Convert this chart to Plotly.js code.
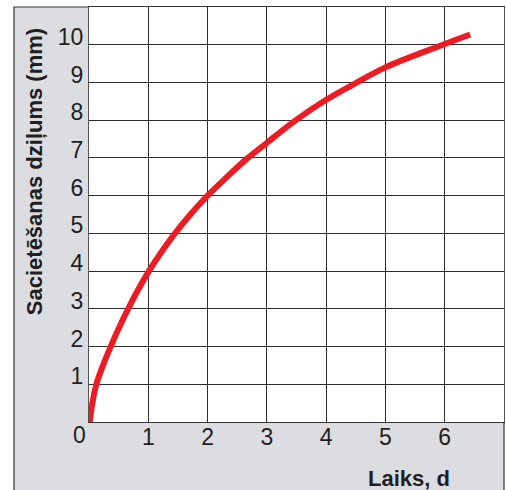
<!DOCTYPE html>
<html>
<head>
<meta charset="utf-8">
<script src="https://cdn.plot.ly/plotly-3.0.1.min.js"></script>
<style>
  html, body { margin: 0; padding: 0; background: #ffffff; }
  #chart { width: 506px; height: 490px; }
</style>
</head>
<body>
<div id="chart"></div>
<script>
// Data
const timeDays = [0.012, 0.057, 0.125, 0.236, 0.366, 0.506, 0.66, 0.826, 1.01, 1.22, 1.45, 1.71, 2.0, 2.33, 2.68, 3.0, 3.49, 4.0, 4.52, 5.0, 5.97, 6.43];
const depthMm  = [0, 0.5, 1, 1.5, 2, 2.5, 3, 3.5, 4, 4.5, 5, 5.5, 6, 6.5, 7, 7.4, 8, 8.54, 9, 9.4, 10, 10.27];

const xTickVals = [1, 2, 3, 4, 5, 6];
const yTickVals = [1, 2, 3, 4, 5, 6, 7, 8, 9, 10];
const xRange = [0, 7];
const yRange = [0, 11];

const xTitle = 'Laiks, d';
const yTitle = 'Sacietēšanas dziļums (mm)';
const originLabel = '0';

const FONT = '"Liberation Sans", Arial, Helvetica, sans-serif';
const PANEL = '#dcdde0';
const INK = '#231f20';

const trace = {
  x: timeDays,
  y: depthMm,
  type: 'scatter',
  mode: 'lines',
  line: { color: '#ed1c24', width: 6, shape: 'spline', smoothing: 1 },
  hoverinfo: 'skip',
  cliponaxis: false
};

const panelLeft = -0.1807;   // left edge of grey panel, paper units
const layout = {
  width: 506,
  height: 490,
  margin: { l: 89, r: 2, t: 7, b: 68, pad: 0 },
  paper_bgcolor: '#ffffff',
  plot_bgcolor: 'rgba(0,0,0,0)',
  showlegend: false,
  font: { family: FONT, color: INK, size: 23 },
  xaxis: {
    range: xRange,
    tickmode: 'array',
    tickvals: xTickVals,
    ticktext: xTickVals.map(String),
    ticks: '',
    ticklabelstandoff: -6,
    showgrid: true,
    gridcolor: '#2e2e2e',
    gridwidth: 1,
    zeroline: false,
    showline: true,
    linecolor: '#333333',
    linewidth: 1,
    mirror: true,
    tickfont: { family: FONT, size: 23, color: INK },
    fixedrange: true
  },
  yaxis: {
    range: yRange,
    tickmode: 'array',
    tickvals: yTickVals,
    ticktext: yTickVals.map(String),
    ticks: '',
    ticklabelshift: -8,
    showgrid: true,
    gridcolor: '#2e2e2e',
    gridwidth: 1,
    zeroline: false,
    showline: true,
    linecolor: '#555555',
    linewidth: 1,
    mirror: true,
    tickfont: { family: FONT, size: 23, color: INK },
    fixedrange: true
  },
  shapes: [
    {
      type: 'rect', xref: 'paper', yref: 'paper', layer: 'below',
      x0: panelLeft, x1: 1.0, y0: -0.3, y1: 1.0,
      fillcolor: PANEL,
      line: { color: '#333333', width: 1.2 }
    },
    {
      type: 'rect', xref: 'x', yref: 'y', layer: 'below',
      x0: xRange[0], x1: xRange[1], y0: yRange[0], y1: yRange[1],
      fillcolor: '#ffffff',
      line: { width: 0 }
    }
  ],
  annotations: [
    {
      text: '<b>' + xTitle + '</b>',
      xref: 'paper', yref: 'paper',
      x: 0.771, y: -0.135,
      xanchor: 'center', yanchor: 'middle',
      showarrow: false,
      font: { family: FONT, size: 22, color: INK }
    },
    {
      text: '<b>' + yTitle + '</b>',
      xref: 'paper', yref: 'paper',
      x: -0.1325, y: 0.602,
      xanchor: 'center', yanchor: 'middle',
      textangle: -90,
      showarrow: false,
      font: { family: FONT, size: 22, color: INK }
    },
    {
      text: originLabel,
      xref: 'paper', yref: 'paper',
      x: -0.0234, y: -0.0325,
      xanchor: 'center', yanchor: 'middle',
      showarrow: false,
      font: { family: FONT, size: 23, color: INK }
    }
  ]
};

Plotly.newPlot('chart', [trace], layout, { displayModeBar: false });
</script>
</body>
</html>
